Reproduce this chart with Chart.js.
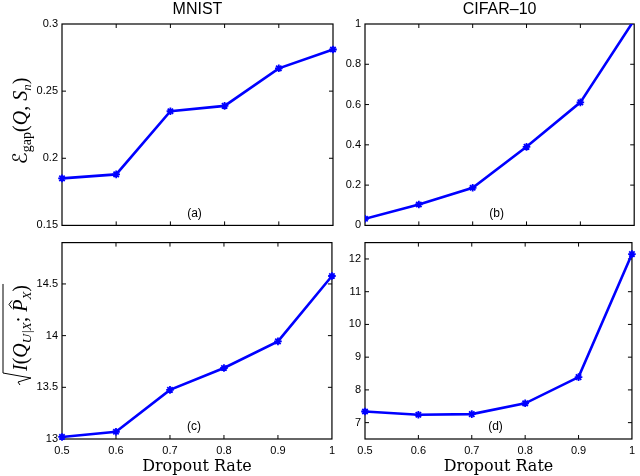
<!DOCTYPE html>
<html><head><meta charset="utf-8">
<script src="https://cdn.jsdelivr.net/npm/chart.js@4/dist/chart.umd.min.js"></script>
<style>
html,body{margin:0;padding:0;background:#fff;}
#wrap{position:relative;width:640px;height:476px;overflow:hidden;background:#fff;}
.p{position:absolute;}
.p canvas{display:block;}
</style></head><body>
<div id="wrap">
<div class="p" style="left:0;top:0;width:340px;height:236px"><canvas id="ca" width="340" height="236"></canvas></div>
<div class="p" style="left:320px;top:0;width:320px;height:236px"><canvas id="cb" width="320" height="236"></canvas></div>
<div class="p" style="left:0;top:232px;width:340px;height:244px"><canvas id="cc" width="340" height="244"></canvas></div>
<div class="p" style="left:320px;top:232px;width:320px;height:244px"><canvas id="cd" width="320" height="244"></canvas></div>
</div>
<script>
// ---- data ----
const dropoutRates = [0.5, 0.6, 0.7, 0.8, 0.9, 1.0];
const mnistGap   = [0.185, 0.188, 0.235, 0.239, 0.267, 0.281];
const cifarGap   = [0.033, 0.104, 0.187, 0.390, 0.611, 1.02];
const mnistInfo  = [13.02, 13.07, 13.475, 13.687, 13.944, 14.577];
const cifarInfo  = [7.34, 7.24, 7.26, 7.59, 8.39, 12.15];
const xTicks  = [0.5, 0.6, 0.7, 0.8, 0.9, 1];
const yTicksA = [0.15, 0.2, 0.25, 0.3];
const yTicksB = [0, 0.2, 0.4, 0.6, 0.8, 1];
const yTicksC = [13, 13.5, 14, 14.5];
const yTicksD = [7, 8, 9, 10, 11, 12];
const panelTitles  = ['MNIST', 'CIFAR\u201310'];
const panelLetters = ['(a)', '(b)', '(c)', '(d)'];
const xAxisTitle = 'Dropout Rate';

const MATH = "'Liberation Serif','DejaVu Serif','DejaVu Sans',serif";
const SANS = "'Liberation Sans', Arial, sans-serif";
const fmt = v => String(Math.round(v * 1000) / 1000);

const gapLabel = [
  {t: '\u2130', font: `20px ${MATH}`},
  {t: 'gap', font: `14px ${MATH}`, dy: 4},
  {t: '(', font: `20px ${MATH}`},
  {t: 'Q', font: `italic 20px ${MATH}`},
  {t: ', ', font: `20px ${MATH}`},
  {t: 'S', font: `italic 20px ${MATH}`},
  {t: 'n', font: `italic 13px ${MATH}`, dy: 4},
  {t: ')', font: `20px ${MATH}`}
];
const infoLabel = [
  {t: 'I', font: `italic 20px ${MATH}`},
  {t: '(', font: `20px ${MATH}`},
  {t: 'Q', font: `italic 20px ${MATH}`},
  {t: 'U|X', font: `italic 13px ${MATH}`, dy: 4},
  {t: '; ', font: `20px ${MATH}`},
  {t: 'P', font: `italic 20px ${MATH}`, hat: true},
  {t: 'X', font: `italic 13px ${MATH}`, dy: 4},
  {t: ')', font: `20px ${MATH}`}
];

const deco = {
  id: 'deco',
  beforeDatasetsDraw(chart, args, o) {
    const {ctx, chartArea: {left, right, top, bottom}} = chart;
    const xs = chart.scales.x, ys = chart.scales.y;
    ctx.save();
    ctx.strokeStyle = '#000';
    ctx.lineWidth = 1.2;
    ctx.strokeRect(left, top, right - left, bottom - top);
    ctx.lineWidth = 1;
    const L = 4;
    ctx.beginPath();
    xs.ticks.forEach(t => {
      const p = xs.getPixelForValue(t.value);
      if (p <= left + 1 || p >= right - 1) return;
      ctx.moveTo(p, bottom); ctx.lineTo(p, bottom - L);
      ctx.moveTo(p, top); ctx.lineTo(p, top + L);
    });
    ys.ticks.forEach(t => {
      const p = ys.getPixelForValue(t.value);
      if (p <= top + 1 || p >= bottom - 1) return;
      ctx.moveTo(left, p); ctx.lineTo(left + L, p);
      ctx.moveTo(right, p); ctx.lineTo(right - L, p);
    });
    ctx.stroke();
    ctx.restore();
  },
  afterDraw(chart, args, o) {
    const {ctx, chartArea: {left, right, top, bottom}} = chart;
    const cx = (left + right) / 2;
    ctx.save();
    ctx.fillStyle = '#000';
    ctx.textAlign = 'center';
    ctx.textBaseline = 'middle';
    if (o.title) {
      ctx.font = `16px ${SANS}`;
      ctx.fillText(o.title, cx, 9.5);
    }
    if (o.letter) {
      ctx.font = `12px ${SANS}`;
      ctx.fillText(o.letter, cx - 3, bottom - 12);
    }
    if (o.ylabel) {
      const parts = o.ylabel;
      ctx.textAlign = 'left';
      ctx.textBaseline = 'alphabetic';
      let total = 0;
      parts.forEach(p => { ctx.font = p.font; p.w = ctx.measureText(p.t).width; total += p.w; });
      const radW = o.sqrt ? 14 : 0;
      total += radW;
      ctx.translate(o.ylx, o.ylcy);
      ctx.rotate(-Math.PI / 2);
      let u = -total / 2;
      const u0 = u;
      u += radW;
      parts.forEach(p => {
        ctx.font = p.font;
        ctx.fillText(p.t, u, p.dy || 0);
        if (p.hat) {
          ctx.beginPath();
          ctx.lineWidth = 1;
          const hc = u + p.w * 0.6;
          ctx.moveTo(hc - 4, -15); ctx.lineTo(hc, -18); ctx.lineTo(hc + 4, -15);
          ctx.strokeStyle = '#000';
          ctx.stroke();
        }
        u += p.w;
      });
      if (o.sqrt) {
        ctx.beginPath();
        ctx.strokeStyle = '#000';
        ctx.lineWidth = 1;
        ctx.moveTo(u0, -7);
        ctx.lineTo(u0 + 3, -9);
        ctx.lineTo(u0 + 7, 4);
        ctx.lineTo(u0 + 12, -24);
        ctx.lineTo(u + 1, -24);
        ctx.stroke();
      }
    }
    ctx.restore();
  }
};

function makePanel(id, cfg) {
  return new Chart(document.getElementById(id), {
    type: 'line',
    data: {
      datasets: [{
        data: dropoutRates.map((x, i) => ({x: x, y: cfg.values[i]})),
        borderColor: '#0000ff',
        backgroundColor: '#0000ff',
        borderWidth: 2.6,
        pointStyle: 'star',
        pointRadius: 3.8,
        pointBorderWidth: 1.8,
        tension: 0,
        clip: cfg.clip
      }]
    },
    options: {
      responsive: false,
      animation: false,
      layout: {padding: {left: 0, right: cfg.padRight, top: cfg.padTop, bottom: 0}},
      plugins: {
        legend: {display: false},
        tooltip: {enabled: false},
        deco: {title: cfg.title, letter: cfg.letter, ylabel: cfg.ylabel, sqrt: cfg.sqrt, ylx: cfg.ylx, ylcy: cfg.ylcy}
      },
      scales: {
        x: {
          type: 'linear', min: 0.5, max: 1,
          afterBuildTicks: s => { s.ticks = xTicks.map(v => ({value: v})); },
          afterFit: s => { s.height = cfg.xHeight; },
          grid: {display: false, drawTicks: false},
          border: {display: false},
          ticks: {display: cfg.showX, color: '#000', font: {family: SANS, size: 11}, padding: 5, maxRotation: 0, autoSkip: false, callback: v => fmt(v)},
          title: {display: cfg.showX, text: xAxisTitle, color: '#000', font: {family: "'DejaVu Serif', serif", size: 16}, padding: 0}
        },
        y: {
          type: 'linear', min: cfg.yMin, max: cfg.yMax,
          afterBuildTicks: s => { s.ticks = cfg.yTicks.map(v => ({value: v})); },
          afterFit: s => { s.width = cfg.yWidth; },
          grid: {display: false, drawTicks: false},
          border: {display: false},
          ticks: {color: '#000', font: {family: SANS, size: 11}, padding: 4, autoSkip: false, callback: v => fmt(v)}
        }
      }
    },
    plugins: [deco]
  });
}

makePanel('ca', {values: mnistGap, yMin: 0.15, yMax: 0.3, yTicks: yTicksA, yWidth: 62, padRight: 7, padTop: 24, xHeight: 7, showX: false,
  title: panelTitles[0], letter: panelLetters[0], ylabel: gapLabel, sqrt: false, ylx: 27, ylcy: 121, clip: false});
makePanel('cb', {values: cifarGap, yMin: 0, yMax: 1, yTicks: yTicksB, yWidth: 45, padRight: 4, padTop: 24, xHeight: 7, showX: false,
  title: panelTitles[1], letter: panelLetters[1], clip: 0});
makePanel('cc', {values: mnistInfo, yMin: 13, yMax: 14.9, yTicks: yTicksC, yWidth: 62, padRight: 7, padTop: 2, xHeight: 37, showX: true,
  letter: panelLetters[2], ylabel: infoLabel, sqrt: true, ylx: 27, ylcy: 103, clip: false});
makePanel('cd', {values: cifarInfo, yMin: 6.5, yMax: 12.5, yTicks: yTicksD, yWidth: 45, padRight: 4, padTop: 2, xHeight: 37, showX: true,
  letter: panelLetters[3], clip: false});
</script>
</body></html>
